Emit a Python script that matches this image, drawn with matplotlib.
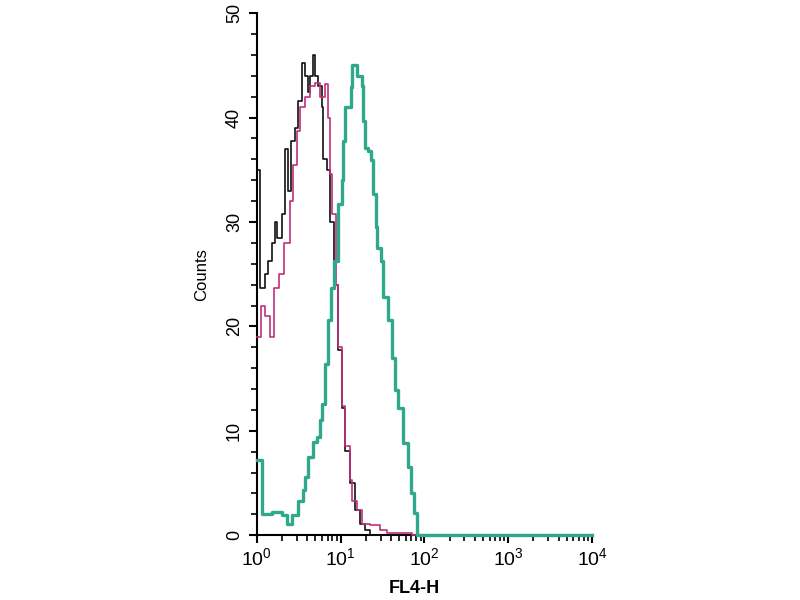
"""Flow cytometry histogram: FL4-H counts, isotype vs stained."""

import matplotlib
matplotlib.use("Agg")
import matplotlib.pyplot as plt
import matplotlib.ticker as mticker
import numpy as np

plt.rcParams["font.family"] = ["Liberation Sans", "DejaVu Sans"]
plt.rcParams["mathtext.default"] = "regular"

# log10(FL4-H) bin starts and counts
black_log = [0.00, 0.036, 0.096, 0.13, 0.18, 0.215, 0.24, 0.30, 0.335, 0.37, 0.41,
             0.45, 0.49, 0.54, 0.573, 0.61, 0.633, 0.669, 0.693, 0.729, 0.777,
             0.789, 0.836, 0.872, 0.92, 0.968, 1.016, 1.05, 1.11, 1.17, 1.23,
             1.29, 1.35, 4.0]
black_cnt = [35, 23.7, 25, 26.3, 28, 30, 28.5, 30.8, 37, 33, 37.8, 39, 41.6,
             45.2, 44, 42.5, 44, 46, 44, 43, 41, 36, 35, 30, 24, 17.7, 12.2,
             8.1, 5, 2.4, 1.1, 0.5, 0, 0]

pink_log = [0.00, 0.05, 0.10, 0.155, 0.20, 0.26, 0.33, 0.395, 0.43, 0.48, 0.514,
            0.573, 0.633, 0.693, 0.753, 0.81, 0.848, 0.872, 0.896, 0.94, 0.968,
            1.016, 1.05, 1.11, 1.14, 1.20, 1.26, 1.35, 1.47, 1.55, 1.85, 4.0]
pink_cnt = [19, 22, 21, 19, 23.7, 25, 28, 32, 35.5, 38.7, 41, 42, 43, 43.3, 42,
            43.2, 40, 34.6, 30.8, 24, 18, 12.4, 8.5, 5.3, 3.3, 2.4, 1.1, 1,
            0.5, 0.25, 0, 0]

teal_log = [0.00, 0.06, 0.18, 0.30, 0.36, 0.42, 0.49, 0.55, 0.573, 0.61, 0.669,
            0.717, 0.753, 0.777, 0.812, 0.848, 0.89, 0.92, 0.968, 1.016, 1.03,
            1.05, 1.09, 1.12, 1.14, 1.19, 1.25, 1.27, 1.29, 1.33, 1.36, 1.39,
            1.42, 1.44, 1.48, 1.51, 1.56, 1.61, 1.65, 1.69, 1.75, 1.80, 1.84,
            1.87, 1.91, 4.0]
teal_cnt = [7.2, 2, 2.2, 1.9, 1.1, 1.9, 3.3, 4.3, 5.6, 7.5, 8.9, 9.4, 11, 12.6,
            16.4, 20.6, 23.7, 26.3, 31.7, 34, 37.8, 41, 41, 42.9, 45, 44, 43,
            39.7, 37.1, 36.8, 35.9, 32.7, 29.5, 27.5, 26.3, 22.8, 20.6, 17,
            13.9, 12.2, 8.8, 6.5, 4, 2.1, 0, 0]

series = [
    (black_log, black_cnt, "#101010", 1.2),
    (pink_log, pink_cnt, "#c0307a", 1.2),
    (teal_log, teal_cnt, "#2fa88c", 2.4),
]

fig = plt.figure(figsize=(8, 6), dpi=100)
ax = fig.add_axes([0.321, 0.108, 0.419, 0.87])

for xs, ys, color, lw in series:
    ax.step(10 ** np.array(xs), ys, where="post", color=color, linewidth=lw,
            clip_on=False, zorder=3)

ax.set_xscale("log")
ax.set_xlim(1, 1e4)
ax.set_ylim(0, 50)

for side in ("top", "right"):
    ax.spines[side].set_visible(False)
ax.spines["left"].set_linewidth(1.5)
ax.spines["bottom"].set_linewidth(1.5)

ax.yaxis.set_major_locator(mticker.MultipleLocator(10))
ax.yaxis.set_minor_locator(mticker.MultipleLocator(2))
ax.xaxis.set_major_locator(mticker.LogLocator(base=10))
ax.xaxis.set_minor_locator(mticker.LogLocator(base=10, subs=np.arange(2, 10)))
ax.xaxis.set_minor_formatter(mticker.NullFormatter())

ax.tick_params(axis="both", which="major", direction="out", length=6, width=1.5)
ax.tick_params(axis="both", which="minor", direction="out", length=4, width=1.2)
ax.tick_params(axis="y", labelsize=13, labelrotation=90, pad=4)
ax.tick_params(axis="x", labelsize=14, pad=3)
for lbl in ax.get_yticklabels():
    lbl.set_va("center")

ax.set_ylabel("Counts", fontsize=12, labelpad=12)
ax.set_xlabel("FL4-H", fontsize=13, fontweight="bold", labelpad=0)
ax.xaxis.set_label_coords(0.47, -0.085)

fig.savefig("out.png", dpi=100)
